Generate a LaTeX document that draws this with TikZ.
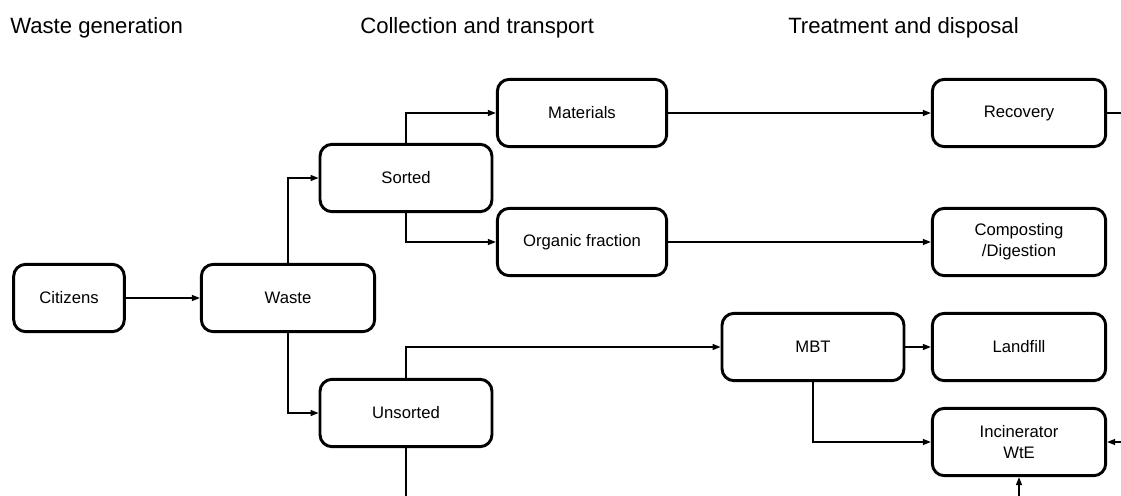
\documentclass[tikz,border=0pt]{standalone}
\usepackage{fontspec}
\setmainfont{Liberation Sans}
\usetikzlibrary{arrows.meta}

\begin{document}
\begin{tikzpicture}[x=0.75pt, y=-0.75pt,
    box/.style={draw, line width=2.2pt, rounded corners=9pt, align=center,
        minimum height=50.5pt, inner sep=2pt, font=\fontsize{12.5}{15.5}\selectfont},
    link/.style={line width=1pt, -{Triangle[length=6pt, width=4.5pt]}},
    wire/.style={line width=1pt},
    stage/.style={anchor=base west, inner sep=0pt, font=\fontsize{16.6}{19}\selectfont}]
    \useasboundingbox (0,0) rectangle (1121,496);

    % stage titles
    \node[stage] (genTitle) at (10,33) {Waste generation};
    \node[stage] (colTitle) at (360,33) {Collection and transport};
    \node[stage] (treTitle) at (788,33) {Treatment and disposal};

    % boxes
    \node[box, minimum width=83pt] (citizens) at (69,298) {Citizens};
    \node[box, minimum width=130pt] (waste) at (288,298) {Waste};
    \node[box, minimum width=129pt] (sorted) at (406,178) {Sorted};
    \node[box, minimum width=129pt] (unsorted) at (406,413) {Unsorted};
    \node[box, minimum width=127pt] (materials) at (582,113) {Materials};
    \node[box, minimum width=127pt] (organic) at (582,242) {Organic fraction};
    \node[box, minimum width=130pt] (recovery) at (1019,113) {Recovery};
    \node[box, minimum width=130pt] (composting) at (1019,242) {Composting\\/Digestion};
    \node[box, minimum width=136.5pt] (mbt) at (813,347) {MBT};
    \node[box, minimum width=130pt] (landfill) at (1019,347) {Landfill};
    \node[box, minimum width=130pt] (incinerator) at (1019,442) {Incinerator\\WtE};

    % loose ends at the edges
    \coordinate (recOut) at (1121,113);
    \coordinate (incRight) at (1121,442);
    \coordinate (incBelow) at (1019,496);
    \coordinate (unsDown) at (406,496);

    % flows
    \draw[link] (citizens) -- (waste);
    \draw[link] (waste.north) |- (sorted.west);
    \draw[link] (waste.south) |- (unsorted.west);
    \draw[link] (sorted.north) |- (materials.west);
    \draw[link] (sorted.south) |- (organic.west);
    \draw[link] (materials) -- (recovery);
    \draw[link] (organic) -- (composting);
    \draw[link] (unsorted.north) |- (mbt.west);
    \draw[link] (mbt) -- (landfill);
    \draw[link] (mbt.south) |- (incinerator.west);
    \draw[wire] (recovery.east) -- (recOut);
    \draw[link] (incRight) -- (incinerator.east);
    \draw[link] (incBelow) -- (incinerator.south);
    \draw[wire] (unsorted.south) -- (unsDown);
\end{tikzpicture}
\end{document}
